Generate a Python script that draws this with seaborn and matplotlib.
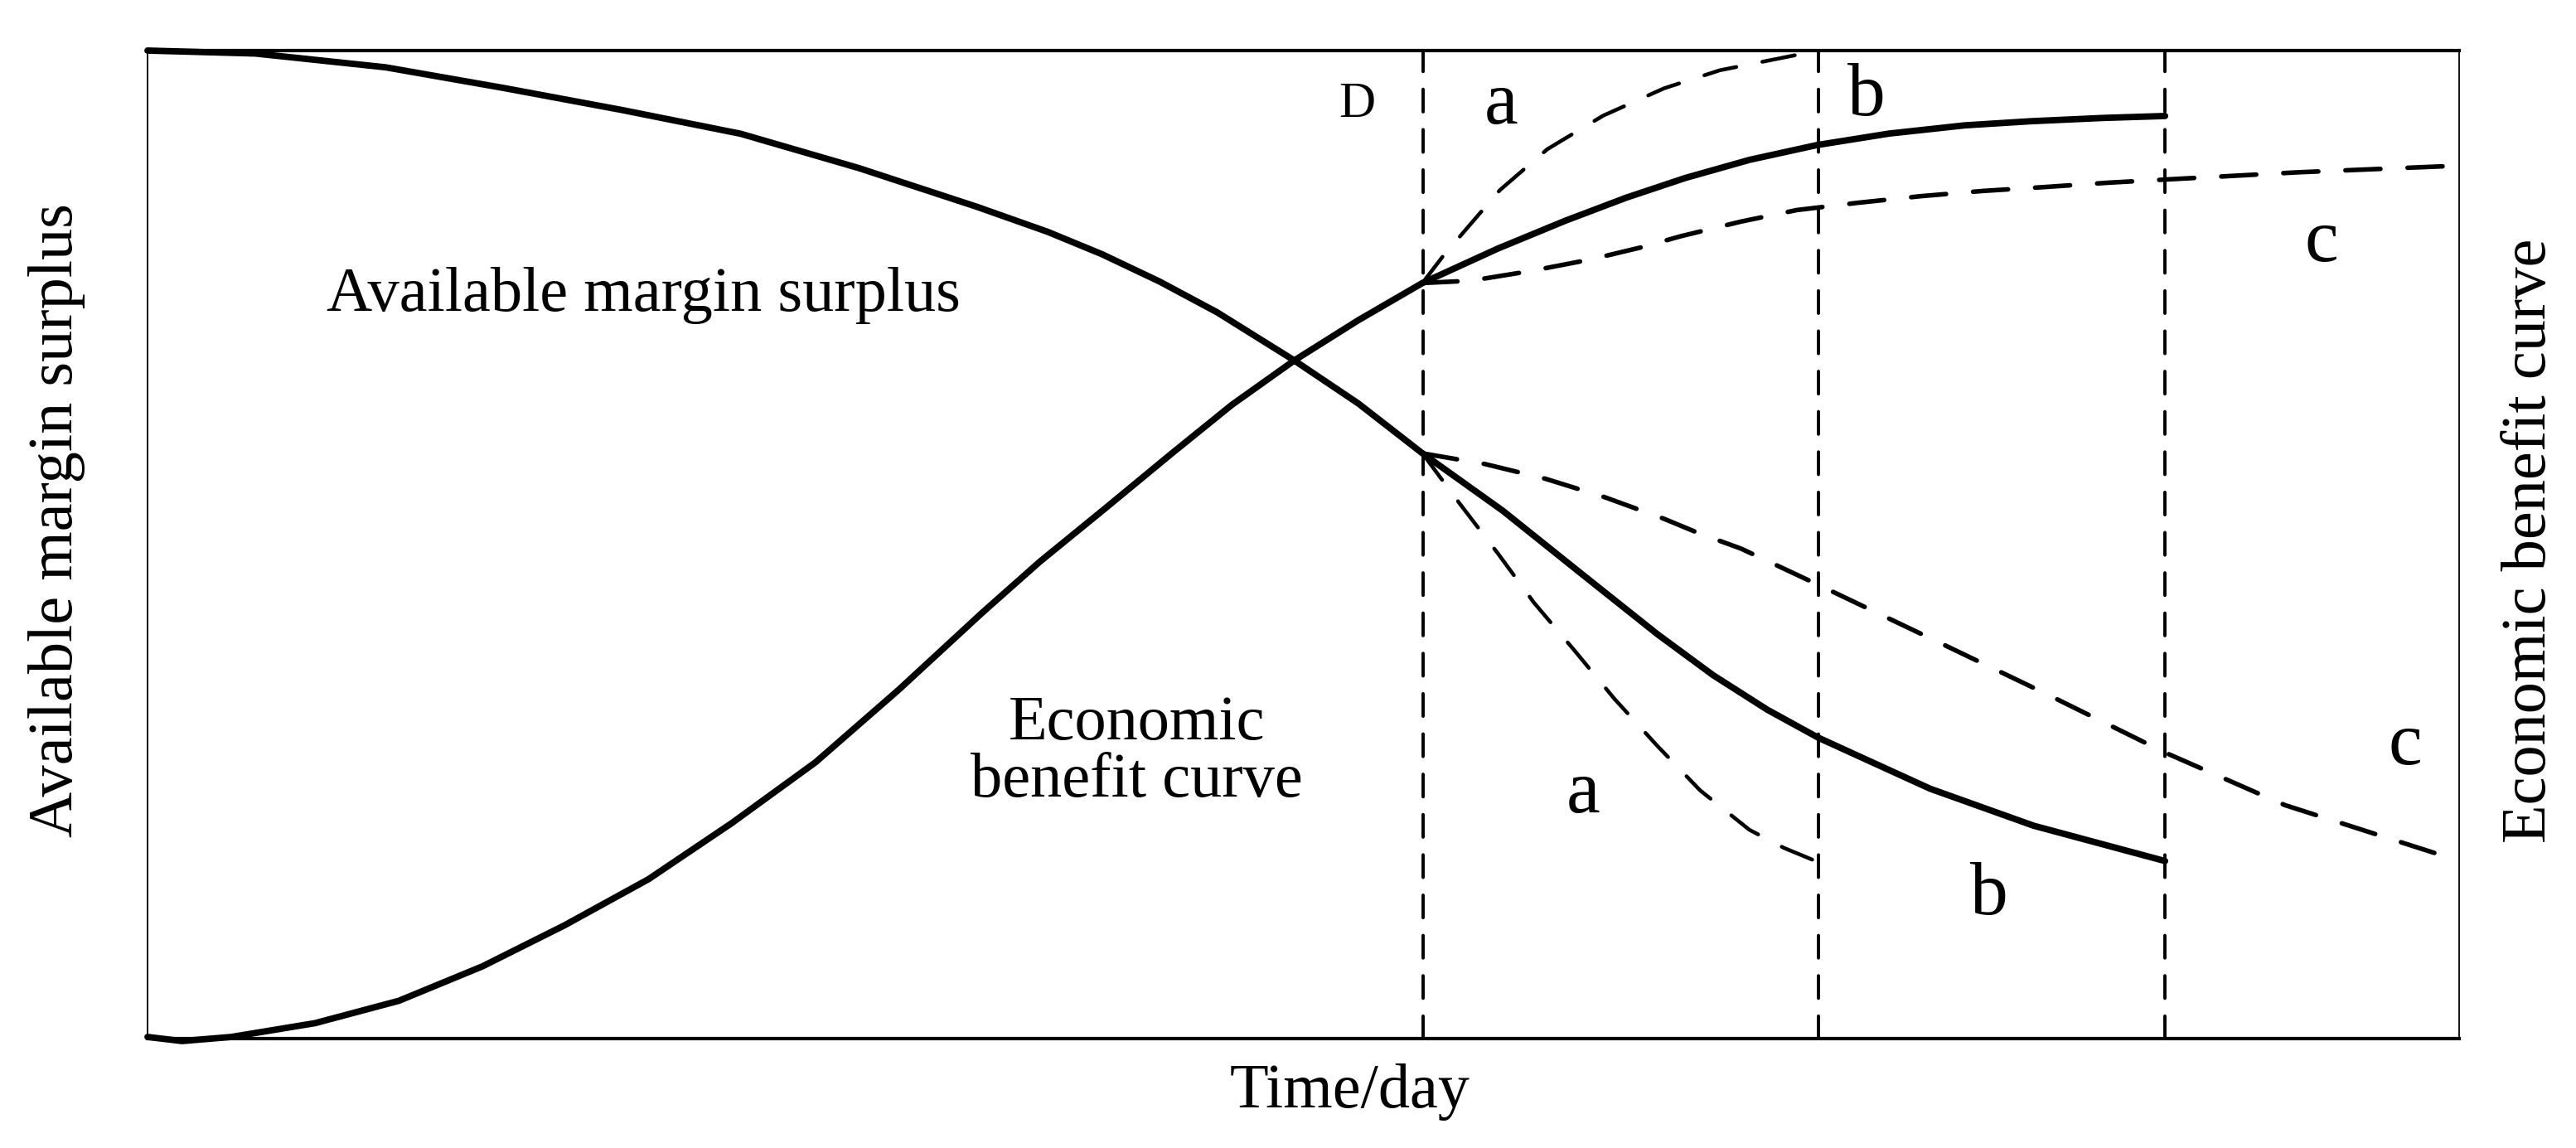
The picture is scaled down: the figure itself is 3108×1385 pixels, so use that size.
import numpy as np
import pandas as pd
import matplotlib
matplotlib.use("Agg")
import matplotlib.pyplot as plt
import seaborn as sns

# ---------------- data (arbitrary schematic units) ----------------
# time axis runs 0..1407, value axis 0..601
# Available margin surplus (solid, falling), ends at the 'b' marker line
margin_x = [0, 65.7, 145, 217, 289, 361, 433, 505, 548, 581, 616, 651, 698, 737,
            776, 825, 875, 919, 953, 986, 1017, 1085, 1148, 1228]
margin_y = [601, 599.2, 590.8, 578.2, 564.8, 550.4, 529.5, 505.9, 490.7, 477.1,
            460.5, 441.8, 412.5, 386.3, 356, 321, 281, 246, 221, 200, 183,
            152, 129.5, 108]

# Economic benefit curve (solid, rising)
benefit_x = [0, 21, 51, 102, 153, 204, 254, 305, 355.5, 406.5, 457, 508, 543,
             583, 623.5, 660, 698, 737, 776, 822, 863, 900, 936, 975, 1016,
             1060, 1106, 1146, 1190, 1228]
benefit_y = [1, -1.5, 1, 9.4, 23, 44, 69, 97, 131, 168, 212, 259, 290, 322.6,
             356, 385.5, 412.5, 437, 459.6, 480.6, 497.5, 511.5, 523.5, 534.5,
             543.5, 550.5, 555.5, 558, 560, 561.2]

# scenario a (fast): upper and lower dashed branches
a_up_x = [776, 789.4, 798, 823, 852, 886, 923, 957, 1017]
a_up_y = [459.6, 477.1, 487, 516, 541, 561.4, 578, 589, 601]
a_lo_x = [776, 799, 822, 844, 868.6, 893, 919, 945, 975, 996, 1017]
a_lo_y = [356, 325, 295, 265, 236, 206.5, 178, 151, 127, 116, 107.3]

# scenario c (slow): upper and lower dashed branches
c_up_x = [776, 805.5, 842.5, 878.7, 910, 933, 970, 1004, 1041, 1079, 1117, 1155,
          1193, 1231, 1310, 1407]
c_up_y = [459.6, 461, 467, 474, 481.5, 488, 497, 504, 508.4, 512.4, 515.6, 518,
          520.6, 522.7, 527, 531]
c_lo_x = [776, 814, 851, 887, 923, 944, 970, 1017, 1082, 1155, 1228, 1301, 1398]
c_lo_y = [356, 349.5, 340.5, 329.3, 316.2, 307.5, 298, 276, 245, 210, 174, 142, 111]

# vertical marker lines (D, end of b, end of c)
vlines_x = [776.5, 1017, 1228]

# text labels
label_text = ["D", "a", "b", "c", "a", "b", "c"]
label_x = [736, 824, 1046, 1323, 873.6, 1121, 1374]
label_y = [568, 568, 573, 484, 149, 87, 178]

# ---------------- figure ----------------
sns.set_theme(style="white")
plt.rcParams["font.family"] = ["Liberation Serif", "DejaVu Serif"]
plt.rcParams["text.color"] = "black"

fig = plt.figure(figsize=(31.08, 13.85), dpi=100)
ax = fig.add_axes([178 / 3108, 1 - 1253 / 1385, (2967 - 178) / 3108, (1253 - 61) / 1385])

solid_kw = dict(color="black", linewidth=5.6, solid_capstyle="round",
                solid_joinstyle="round")
sns.lineplot(x=margin_x, y=margin_y, ax=ax, sort=False, estimator=None, **solid_kw)
sns.lineplot(x=benefit_x, y=benefit_y, ax=ax, sort=False, estimator=None, **solid_kw)

a_kw = dict(color="black", linewidth=3.3, linestyle=(0, (8.7, 7.0)),
            dash_capstyle="round")
sns.lineplot(x=a_up_x, y=a_up_y, ax=ax, sort=False, estimator=None, **a_kw)
sns.lineplot(x=a_lo_x, y=a_lo_y, ax=ax, sort=False, estimator=None, **a_kw)

c_kw = dict(color="black", linewidth=4.0, linestyle=(0, (7.6, 5.9)),
            dash_capstyle="round")
sns.lineplot(x=c_up_x, y=c_up_y, ax=ax, sort=False, estimator=None, **c_kw)
sns.lineplot(x=c_lo_x, y=c_lo_y, ax=ax, sort=False, estimator=None, **c_kw)

for line in ax.lines:
    line.set_clip_on(False)

for xv in vlines_x:
    ax.axvline(xv, color="black", linewidth=2.8, linestyle=(0, (7.0, 5.5)),
               dash_capstyle="round")

ax.set_xlim(0, 1407)
ax.set_ylim(0, 601)
ax.set_xticks([])
ax.set_yticks([])

for side in ["top", "bottom"]:
    ax.spines[side].set_linewidth(3.0)
for side in ["left", "right"]:
    ax.spines[side].set_linewidth(1.3)
for s in ax.spines.values():
    s.set_color("black")

for t, x, y in zip(label_text, label_x, label_y):
    fs = 44 if t == "D" else 66
    ax.text(x, y, t, fontsize=fs, ha="center", va="center", color="black")

ax.text(109, 452, "Available margin surplus", fontsize=55, ha="left", va="center",
        color="black")
ax.text(602, 174, "Economic\nbenefit curve", fontsize=55, ha="center", va="center",
        linespacing=1.0, color="black")

fig.text(1629 / 3108, 1 - 1318 / 1385, "Time/day", fontsize=55,
         ha="center", va="center", color="black")
fig.text(69 / 3108, 1 - 628 / 1385, "Available margin surplus", fontsize=55,
         rotation=90, ha="center", va="center", color="black")
fig.text(3052 / 3108, 1 - 652 / 1385, "Economic benefit curve", fontsize=55,
         rotation=90, ha="center", va="center", color="black")

fig.savefig("out.png", dpi=100, facecolor="white")
